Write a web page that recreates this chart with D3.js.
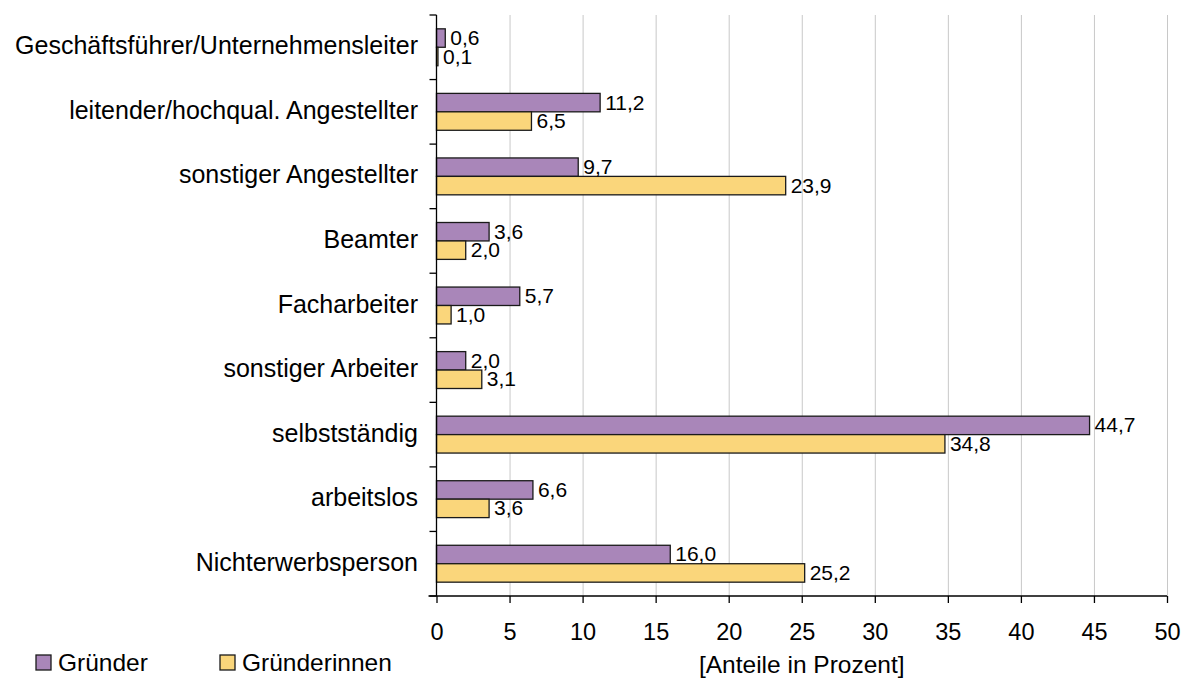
<!DOCTYPE html>
<html>
<head>
<meta charset="utf-8">
<script src="https://cdn.jsdelivr.net/npm/d3@7"></script>
<style>
  body { margin: 0; background: #fff; }
  svg { display: block; font-family: "Liberation Sans", Arial, sans-serif; }
</style>
</head>
<body>
<svg id="chart" width="1189" height="681"></svg>
<script>
// data
const categories = ['Geschäftsführer/Unternehmensleiter', 'leitender/hochqual. Angestellter', 'sonstiger Angestellter',
  'Beamter', 'Facharbeiter', 'sonstiger Arbeiter', 'selbstständig', 'arbeitslos', 'Nichterwerbsperson'];
const seriesNames = ['Gründer', 'Gründerinnen'];
const gruender = [0.6, 11.2, 9.7, 3.6, 5.7, 2.0, 44.7, 6.6, 16.0];
const gruenderinnen = [0.1, 6.5, 23.9, 2.0, 1.0, 3.1, 34.8, 3.6, 25.2];
const xTicks = [0, 5, 10, 15, 20, 25, 30, 35, 40, 45, 50];
const COLORS = ['#a986b9', '#fad67b'];

const svg = d3.select('#chart');
const plotLeft = 436.5, plotRight = 1167, plotTop = 15, plotBottom = 596;

const x = d3.scaleLinear().domain([0, 50]).range([plotLeft, plotRight]);
const y = d3.scaleBand().domain(categories).range([plotTop, plotBottom]).padding(0);
const ySub = d3.scaleBand().domain(seriesNames).range([0, y.bandwidth()]).paddingInner(0).paddingOuter(0.75);

const de = d3.formatLocale({ decimal: ',', thousands: '.', grouping: [3], currency: ['', '€'] });
const fmt = de.format('.1f');

// gridlines
svg.append('g')
  .selectAll('line')
  .data(xTicks.filter(d => d > 0))
  .join('line')
  .attr('x1', d => x(d) + 0.5).attr('x2', d => x(d) + 0.5)
  .attr('y1', plotTop).attr('y2', plotBottom)
  .attr('stroke', '#c8c8c8').attr('stroke-width', 1);

// bars
const rows = categories.map((c, i) => ({ cat: c, values: [gruender[i], gruenderinnen[i]] }));
const groups = svg.append('g').selectAll('g')
  .data(rows)
  .join('g')
  .attr('transform', d => `translate(0,${y(d.cat)})`);

groups.selectAll('rect')
  .data(d => d.values.map((v, j) => ({ key: seriesNames[j], v, j })))
  .join('rect')
  .attr('x', x(0))
  .attr('y', d => ySub(d.key))
  .attr('width', d => x(d.v) - x(0))
  .attr('height', ySub.bandwidth())
  .attr('fill', d => COLORS[d.j])
  .attr('stroke', '#1a1a1a')
  .attr('stroke-width', 1.3);

groups.selectAll('text')
  .data(d => d.values.map((v, j) => ({ key: seriesNames[j], v, j })))
  .join('text')
  .attr('x', d => x(d.v) + 5)
  .attr('y', d => ySub(d.key) + ySub.bandwidth() / 2 + 7)
  .attr('font-size', 21)
  .attr('fill', '#000')
  .text(d => fmt(d.v));

// y axis
const yAxis = svg.append('g');
yAxis.append('line')
  .attr('x1', plotLeft).attr('x2', plotLeft).attr('y1', plotTop).attr('y2', plotBottom)
  .attr('stroke', '#000').attr('stroke-width', 1.3);
yAxis.selectAll('line.tick')
  .data(d3.range(categories.length + 1))
  .join('line')
  .attr('class', 'tick')
  .attr('x1', plotLeft - 7).attr('x2', plotLeft)
  .attr('y1', i => plotTop + i * y.step()).attr('y2', i => plotTop + i * y.step())
  .attr('stroke', '#000').attr('stroke-width', 1.3);
yAxis.selectAll('text')
  .data(categories)
  .join('text')
  .attr('x', 418)
  .attr('y', d => y(d) + y.bandwidth() / 2 + 7)
  .attr('text-anchor', 'end')
  .attr('font-size', 25)
  .text(d => d);

// x axis
const xAxis = svg.append('g').attr('transform', `translate(0,${plotBottom})`)
  .call(d3.axisBottom(x).tickValues(xTicks).tickSize(7).tickPadding(20).tickFormat(d3.format('d')));
xAxis.select('.domain').remove();
xAxis.append('line').attr('x1', plotLeft - 8).attr('x2', plotRight).attr('stroke', '#000').attr('stroke-width', 1.3);
xAxis.selectAll('.tick line').attr('stroke', '#000').attr('stroke-width', 1.3);
xAxis.selectAll('.tick text').attr('font-size', 23.5).attr('fill', '#000')
  .attr('font-family', '"Liberation Sans", Arial, sans-serif')
  .attr('dy', null).attr('y', 44);

svg.append('text')
  .attr('x', (plotLeft + plotRight) / 2)
  .attr('y', 673)
  .attr('text-anchor', 'middle')
  .attr('font-size', 24.5)
  .text('[Anteile in Prozent]');

// legend
const legendX = [36, 220];
const legend = svg.append('g').selectAll('g')
  .data(seriesNames)
  .join('g')
  .attr('transform', (d, i) => `translate(${legendX[i]},655)`);
legend.append('rect')
  .attr('width', 15).attr('height', 15)
  .attr('fill', (d, i) => COLORS[i])
  .attr('stroke', '#1a1a1a').attr('stroke-width', 1.3);
legend.append('text')
  .attr('x', 22).attr('y', 16)
  .attr('font-size', 24.5)
  .text(d => d);
</script>
</body>
</html>
